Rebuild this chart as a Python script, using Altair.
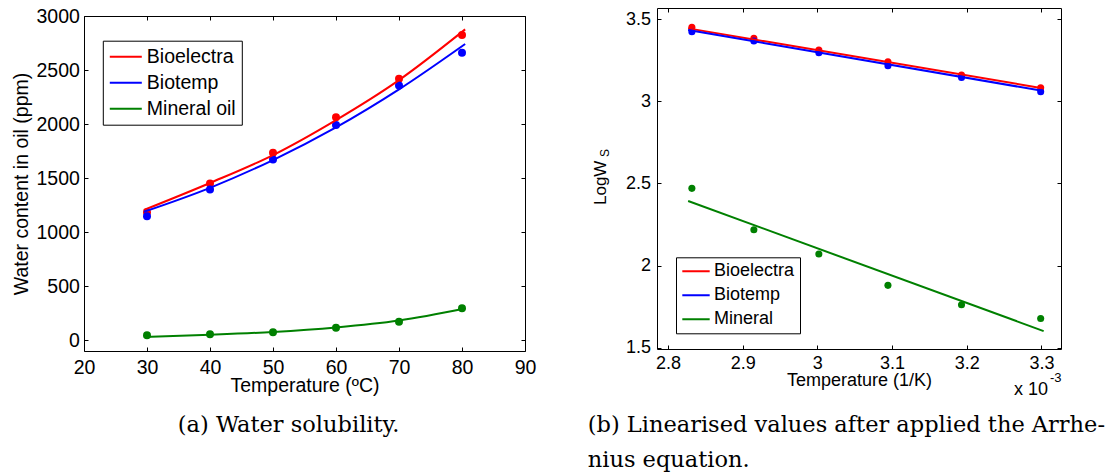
import altair as alt
import pandas as pd

FONT = "Liberation Sans"
SERIF = "DejaVu Serif"

# ---------------- panel (a): water solubility ----------------
series_a = ["Bioelectra", "Biotemp", "Mineral oil"]
temps_c = [30, 40, 50, 60, 70, 80]
bioelectra_ppm = [1185, 1451, 1734, 2062, 2420, 2824]
biotemp_ppm = [1148, 1395, 1673, 1991, 2358, 2660]
mineral_ppm = [46, 55, 74, 114, 170, 296]

fit_temps_c = [29.5, 40, 50, 60, 70, 80.5]
bioelectra_fit_ppm = [1205, 1455, 1713, 2037, 2407, 2876]
biotemp_fit_ppm = [1188, 1410, 1667, 1969, 2321, 2741]
mineral_fit_ppm = [30, 50, 76, 118, 182, 293]

x_ticks_a = [20, 30, 40, 50, 60, 70, 80, 90]
y_ticks_a = [0, 500, 1000, 1500, 2000, 2500, 3000]

# ---------------- panel (b): Arrhenius linearisation ----------------
series_b = ["Bioelectra", "Biotemp", "Mineral"]
inv_temp = [2.832, 2.915, 3.002, 3.0945, 3.193, 3.299]  # 1/K (x 10^-3)
bioelectra_log = [3.449, 3.383, 3.311, 3.240, 3.159, 3.082]
biotemp_log = [3.423, 3.366, 3.295, 3.216, 3.145, 3.058]
mineral_log = [2.470, 2.218, 2.071, 1.880, 1.762, 1.679]

fit_inv_temp = [2.827, 3.303]
bioelectra_fit_log = [3.443, 3.078]
biotemp_fit_log = [3.433, 3.062]
mineral_fit_log = [2.393, 1.602]

x_ticks_b = [2.8, 2.9, 3.0, 3.1, 3.2, 3.3]
y_ticks_b = [1.5, 2.0, 2.5, 3.0, 3.5]

colors = ["#ff0000", "#0000ff", "#008000"]

caption_a = "(a) Water solubility."
caption_b1 = "(b) Linearised values after applied the Arrhe-"
caption_b2 = "nius equation."
x_title_a = "Temperature (\u00baC)"
y_title_a = "Water content in oil (ppm)"
x_title_b = "Temperature (1/K)"
y_title_b_main = "LogW"
y_title_b_sub = "S"
exp_base = "x 10"
exp_power = "-3"


def long_df(xs, ys_list, names):
    rows = []
    for name, ys in zip(names, ys_list):
        for x, y in zip(xs, ys):
            rows.append({"x": x, "y": y, "series": name})
    return pd.DataFrame(rows)


pts_a_df = long_df(temps_c, [bioelectra_ppm, biotemp_ppm, mineral_ppm], series_a)
fit_a_df = long_df(fit_temps_c, [bioelectra_fit_ppm, biotemp_fit_ppm, mineral_fit_ppm], series_a)
pts_b_df = long_df(inv_temp, [bioelectra_log, biotemp_log, mineral_log], series_b)
fit_b_df = long_df(fit_inv_temp, [bioelectra_fit_log, biotemp_fit_log, mineral_fit_log], series_b)

TICK_IN = {"expr": "-4"}


def ax(orient, values, size, labels=True, title=None, pad=0, **kw):
    params = dict(
        orient=orient, values=values, grid=False,
        domain=True, domainColor="black", domainWidth=1,
        ticks=True, tickColor="black", tickWidth=1, tickSize=TICK_IN,
        labels=labels, labelFlush=False, labelOverlap=False,
        labelFont=FONT, labelFontSize=size, labelColor="black",
        labelPadding=pad, format="~r",
        titleFont=FONT, titleFontSize=size, titleFontWeight="normal",
        titleColor="black",
    )
    params["title"] = title
    params.update(kw)
    return alt.Axis(**params)


def legend(x, y, fs, sym, clip, pad, offset, tail):
    return alt.Legend(
        orient="none", legendX=x, legendY=y, direction="vertical", title=None,
        symbolType="stroke", symbolSize=sym, symbolStrokeWidth=2,
        clipHeight=clip, rowPadding=6, padding=pad, labelOffset=offset,
        labelFont=FONT, labelFontSize=fs, labelColor="black",
        strokeColor="black", fillColor="white",
        labelExpr="datum.label + '" + tail + "'",
    )


def text_layer(txt, x, y, size, font, angle=0):
    return alt.Chart(pd.DataFrame({"label": [txt]})).mark_text(
        align="left", baseline="alphabetic", font=font, fontSize=size,
        color="black", angle=angle,
    ).encode(x=alt.value(x), y=alt.value(y), text="label:N")


# ---------------- panel (a) ----------------
FS_A = 19.5
xs_a = alt.Scale(domain=[20, 90], nice=False, zero=False)
ys_a = alt.Scale(domain=[-100, 3000], range=[343, 8], nice=False, zero=False)
col_a = alt.Scale(domain=series_a, range=colors)
leg_a = legend(18.8, 32.7, FS_A, 1024, 20, 6, 4, "\u00a0\u00a0\u00a0")

pts_a = alt.Chart(pts_a_df).mark_circle(size=64, opacity=1).encode(
    x=alt.X("x:Q", scale=xs_a,
            axis=ax("bottom", x_ticks_a, FS_A, title=x_title_a, pad=11.3,
                    titleY=40, titleBaseline="alphabetic")),
    y=alt.Y("y:Q", scale=ys_a,
            axis=ax("left", y_ticks_a, FS_A, title=y_title_a, pad=8.6,
                    titleX=-56.6, titleAngle=270, titleBaseline="alphabetic",
                    titleAlign="center")),
    color=alt.Color("series:N", scale=col_a, legend=leg_a),
)

fit_a = alt.Chart(fit_a_df).mark_line(strokeWidth=2, interpolate="monotone").encode(
    x=alt.X("x:Q", scale=xs_a, axis=ax("top", x_ticks_a, FS_A, labels=False, offset=-8)),
    y=alt.Y("y:Q", scale=ys_a, axis=ax("right", y_ticks_a, FS_A, labels=False)),
    color=alt.Color("series:N", scale=col_a, legend=leg_a),
)

panel_a = alt.layer(
    pts_a, fit_a,
    text_layer(caption_a, 93.8, 423.7, 22.5, SERIF),
).resolve_axis(x="independent", y="independent").properties(width=441, height=343)

# ---------------- panel (b) ----------------
FS_B = 18
xs_b = alt.Scale(domain=[2.7853, 3.3262], nice=False, zero=False)
ys_b = alt.Scale(domain=[1.493, 3.567], nice=False, zero=False)
col_b = alt.Scale(domain=series_b, range=colors)
leg_b = legend(19, 249.3, FS_B, 750, 18, 5, 3, "\u00a0")

pts_b = alt.Chart(pts_b_df).mark_circle(size=50, opacity=1).encode(
    x=alt.X("x:Q", scale=xs_b,
            axis=ax("bottom", x_ticks_b, FS_B, title=x_title_b, pad=9.1,
                    titleY=36.5, titleBaseline="alphabetic")),
    y=alt.Y("y:Q", scale=ys_b, axis=ax("left", y_ticks_b, FS_B, pad=10.5)),
    color=alt.Color("series:N", scale=col_b, legend=leg_b),
)

fit_b = alt.Chart(fit_b_df).mark_line(strokeWidth=2).encode(
    x=alt.X("x:Q", scale=xs_b, axis=ax("top", x_ticks_b, FS_B, labels=False)),
    y=alt.Y("y:Q", scale=ys_b, axis=ax("right", y_ticks_b, FS_B, labels=False)),
    color=alt.Color("series:N", scale=col_b, legend=leg_b),
)

panel_b = alt.layer(
    pts_b, fit_b,
    text_layer(y_title_b_main, -51, 197, 17, FONT, angle=270),
    text_layer(y_title_b_sub, -48, 149, 12, FONT, angle=270),
    text_layer(exp_base, 357, 387, 18, FONT),
    text_layer(exp_power, 393, 373.7, 13, FONT),
    text_layer(caption_b1, -69.3, 423.7, 22.5, SERIF),
    text_layer(caption_b2, -69.3, 458.7, 22.5, SERIF),
).resolve_axis(x="independent", y="independent").properties(width=404, height=341)

chart = alt.hconcat(panel_a, panel_b, spacing=132, bounds="flush").resolve_scale(
    color="independent"
).resolve_legend(color="independent").properties(
    padding={"left": 11, "top": 6, "right": 5, "bottom": 0},
    background="white",
).configure_view(strokeOpacity=0)

chart.save("out.html", embed_options={"renderer": "svg", "actions": False})
